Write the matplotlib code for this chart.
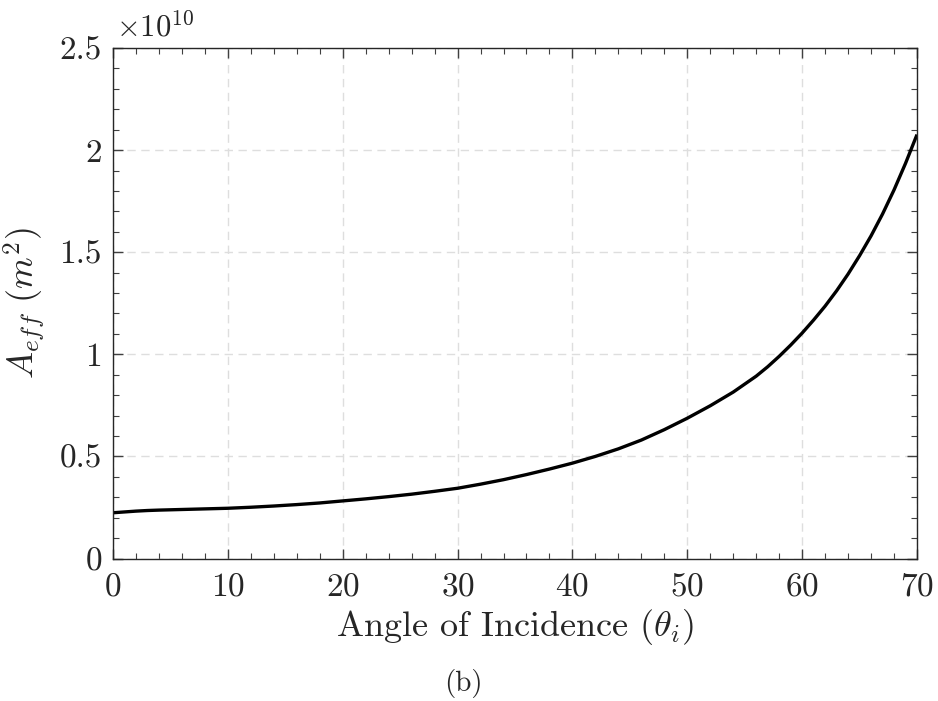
import matplotlib
matplotlib.use("Agg")
import matplotlib.pyplot as plt
from matplotlib.ticker import MultipleLocator

# LaTeX-like look: Computer Modern for text and math
plt.rcParams["mathtext.fontset"] = "cm"
plt.rcParams["font.family"] = ["cmr10", "DejaVu Serif"]
plt.rcParams["axes.formatter.use_mathtext"] = True

# effective area vs. angle of incidence (units of 1e10 m^2)
angle_deg = [0, 1, 2, 3, 4, 6, 8, 10, 12, 14, 16, 18, 20, 22, 24, 26, 28, 30,
             32, 34, 36, 38, 40, 42, 44, 46, 48, 50, 52, 54, 56, 57, 58, 59, 60,
             61, 62, 63, 64, 65, 66, 67, 68, 69, 70]
a_eff = [0.224, 0.228, 0.232, 0.235, 0.237, 0.240, 0.243, 0.246, 0.251, 0.257,
         0.264, 0.272, 0.282, 0.292, 0.303, 0.315, 0.329, 0.344,
         0.364, 0.386, 0.411, 0.438, 0.467, 0.500, 0.537, 0.580, 0.631, 0.687,
         0.748, 0.815, 0.893, 0.939, 0.990, 1.045, 1.104,
         1.168, 1.236, 1.311, 1.393, 1.483, 1.580, 1.687, 1.805, 1.935, 2.076]

x_ticks = [0, 10, 20, 30, 40, 50, 60, 70]
y_ticks = [0, 0.5, 1, 1.5, 2, 2.5]
y_tick_labels = ["0", "0.5", "1", "1.5", "2", "2.5"]

fig = plt.figure(figsize=(9.38, 7.01), dpi=100)
ax = fig.add_axes([113 / 938, 1 - 558.5 / 701, (917 - 113) / 938, (558.5 - 48) / 701])

ax.plot(angle_deg, a_eff, color="black", linewidth=2.4, solid_capstyle="butt")

ax.set_xlim(0, 70)
ax.set_ylim(0, 2.5)
ax.set_xticks(x_ticks)
ax.set_yticks(y_ticks)
ax.set_yticklabels(y_tick_labels)
ax.xaxis.set_minor_locator(MultipleLocator(2))
ax.yaxis.set_minor_locator(MultipleLocator(0.1))

ax.tick_params(which="both", direction="in", top=True, right=True,
               color="#404040", labelsize=24, labelcolor="#262626")
ax.tick_params(axis="x", which="major", pad=10)
ax.tick_params(axis="y", which="major", pad=8)
ax.tick_params(which="major", length=7, width=1.0)
ax.tick_params(which="minor", length=4, width=0.8)

for spine in ax.spines.values():
    spine.set_color("#262626")
    spine.set_linewidth(1.0)

ax.grid(True, which="major", linestyle=(0, (6, 4)), color="#dedede", linewidth=1.0)
ax.set_axisbelow(True)

ax.set_xlabel(r"Angle of Incidence $(\theta_i)$", fontsize=26, color="#262626", labelpad=4)
ax.set_ylabel(r"$A_{eff}\ (m^2)$", fontsize=26, color="#262626", labelpad=8)

# exponent marker above the y axis
ax.text(0.004, 1.012, r"$\times10^{10}$", transform=ax.transAxes, fontsize=22,
        color="#262626", ha="left", va="bottom")

fig.text(463 / 938, 1 - 683 / 701, "(b)", fontsize=21, color="#262626",
         ha="center", va="center")

fig.savefig("out.png", dpi=100, facecolor="white")
